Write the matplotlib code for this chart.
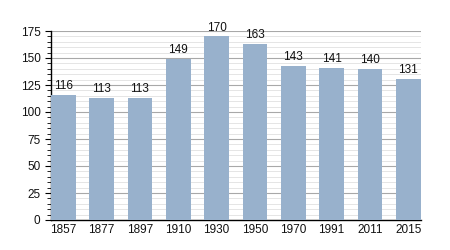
import matplotlib
matplotlib.use("Agg")
import matplotlib.pyplot as plt
from matplotlib.ticker import MultipleLocator

# Données
annees = ["1857", "1877", "1897", "1910", "1930", "1950", "1970", "1991", "2011", "2015"]
population = [116, 113, 113, 149, 170, 163, 143, 141, 140, 131]

plt.rcParams['font.family'] = ['Liberation Sans', 'DejaVu Sans']

fig = plt.figure(figsize=(4.5, 2.5), dpi=100)
ax = fig.add_axes([0.113, 0.12, 0.822, 0.756])

largeur = 0.65
x = range(len(annees))
ax.bar(x, population, width=largeur, color="#98b1cc", zorder=3)

# Étiquettes au-dessus des barres
for xi, v in zip(x, population):
    ax.text(xi, v + 2.5, str(v), ha="center", va="bottom", fontsize=8.5, color="#111111", zorder=4)

ax.set_xlim(-largeur / 2, len(annees) - 1 + largeur / 2)
ax.set_ylim(0, 175)
ax.set_xticks(list(x))
ax.set_xticklabels(annees)
ax.yaxis.set_major_locator(MultipleLocator(25))
ax.yaxis.set_minor_locator(MultipleLocator(5))

# Grille
ax.grid(axis="y", which="major", color="#a8a8a8", linewidth=0.8, zorder=0)
ax.grid(axis="y", which="minor", color="#e0e0e0", linewidth=0.6, zorder=0)

for s in ["top", "right"]:
    ax.spines[s].set_visible(False)
ax.spines["left"].set_linewidth(1.0)
ax.spines["bottom"].set_linewidth(1.0)

ax.tick_params(axis="x", length=0, labelsize=8.5, pad=3, labelcolor="#111111")
ax.tick_params(axis="y", which="major", length=4, labelsize=8.5, direction="out", labelcolor="#111111")
ax.tick_params(axis="y", which="minor", length=3, direction="out")

fig.savefig("out.png", dpi=100)
